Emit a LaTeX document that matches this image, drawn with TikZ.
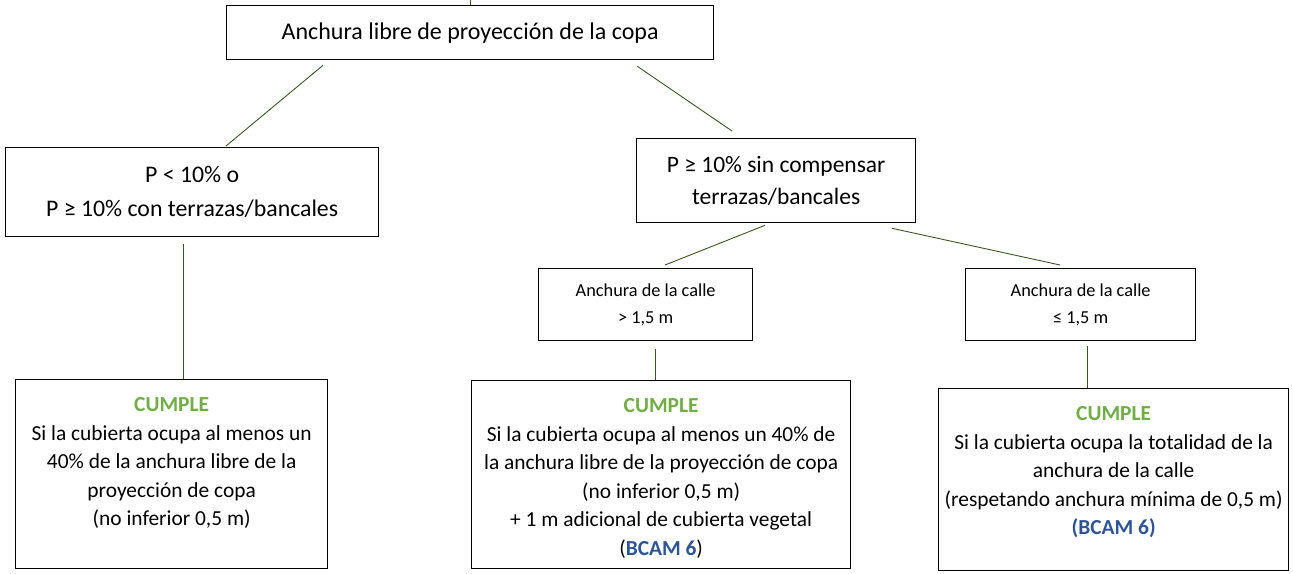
\documentclass[tikz,border=0pt]{standalone}
\usepackage{fontspec}
\setmainfont{Carlito}
\usetikzlibrary{positioning}
\definecolor{linkgreen}{HTML}{385723}
\definecolor{okgreen}{HTML}{70AD47}
\definecolor{bcamblue}{HTML}{2F5496}
\newcommand{\cumple}{\textcolor{okgreen}{\textbf{CUMPLE}}}
\tikzset{
  %inner sep = 0.5mm,
  box/.style = {draw, line width=1.3pt, anchor=north west, inner sep=0pt},
  head/.style = {box, font=\fontsize{24}{28}\selectfont},
  cond/.style = {box, align=center, font=\fontsize{23.8}{34}\selectfont},
  calle/.style = {box, align=center, font=\fontsize{18.3}{27}\selectfont},
  result/.style = {box},
  resulttxt/.style = {anchor=north, align=center,
                      font=\fontsize{21.4}{28.5}\selectfont},
  link/.style = {draw=linkgreen, line width=0.9pt},
}
\begin{document}
\begin{tikzpicture}[x=1pt,y=-1pt]
\useasboundingbox (0,0) rectangle (1293,573);
% boxes
\node[head, minimum width=487pt, minimum height=54pt] (root) at (226,5)
  {Anchura libre de proyección de la copa};
\node[cond, minimum width=373pt, minimum height=89pt] (low) at (5,147)
  {P < 10\% o\\P ≥ 10\% con terrazas/bancales};
\node[cond, minimum width=279pt, minimum height=84pt,
  font=\fontsize{23.5}{32}\selectfont] (high) at (636,138)
  {P ≥ 10\% sin compensar\\terrazas/bancales};
\node[calle, minimum width=214pt, minimum height=72pt] (wide) at (538,268)
  {Anchura de la calle\\> 1,5 m};
\node[calle, minimum width=230pt, minimum height=72pt] (narrow) at (965,268)
  {Anchura de la calle\\≤ 1,5 m};
\node[result, minimum width=312pt, minimum height=189pt] (okA) at (15,379) {};
\node[result, minimum width=379pt, minimum height=188pt] (okB) at (471,380) {};
\node[result, minimum width=350pt, minimum height=182pt] (okC) at (938,388) {};
% texts of the results
\node[resulttxt] (okAtxt) at ([yshift=-15pt]okA.north)
  {\cumple\\Si la cubierta ocupa al menos un\\40\% de la anchura libre de la\\
   proyección de copa\\(no inferior 0,5 m)};
\node[resulttxt] (okBtxt) at ([yshift=-15pt]okB.north)
  {\cumple\\Si la cubierta ocupa al menos un 40\% de\\
   la anchura libre de la proyección de copa\\(no inferior 0,5 m)\\
   + 1 m adicional de cubierta vegetal\\(\textcolor{bcamblue}{\textbf{BCAM 6}})};
\node[resulttxt] (okCtxt) at ([yshift=-15pt]okC.north)
  {\cumple\\Si la cubierta ocupa la totalidad de la\\anchura de la calle\\
   (respetando anchura mínima de 0,5 m)\\\textcolor{bcamblue}{\textbf{(BCAM 6)}}};
% connectors
\coordinate (top) at (root.north |- 0,-5);
\draw[link] (top) -- (root.north);
\draw[link] ([xshift=97pt,yshift=-5pt]root.south west)
  -- ([xshift=221pt,yshift=1pt]low.north west);
\draw[link] ([xshift=-77pt,yshift=-6pt]root.south east)
  -- ([xshift=96pt,yshift=7pt]high.north west);
\draw[link] ([xshift=178pt,yshift=-7pt]low.south west)
  -- ([xshift=168pt]okA.north west);
\draw[link] ([xshift=129pt,yshift=-2pt]high.south west)
  -- ([xshift=127pt,yshift=3pt]wide.north west);
\draw[link] ([xshift=256pt,yshift=-5pt]high.south west)
  -- ([xshift=95pt,yshift=3pt]narrow.north west);
\draw[link] ([xshift=117pt,yshift=-8pt]wide.south west)
  -- ([xshift=184pt]okB.north west);
\draw[link] ([xshift=122pt,yshift=-5pt]narrow.south west)
  -- ([xshift=149pt]okC.north west);
\end{tikzpicture}
\end{document}
